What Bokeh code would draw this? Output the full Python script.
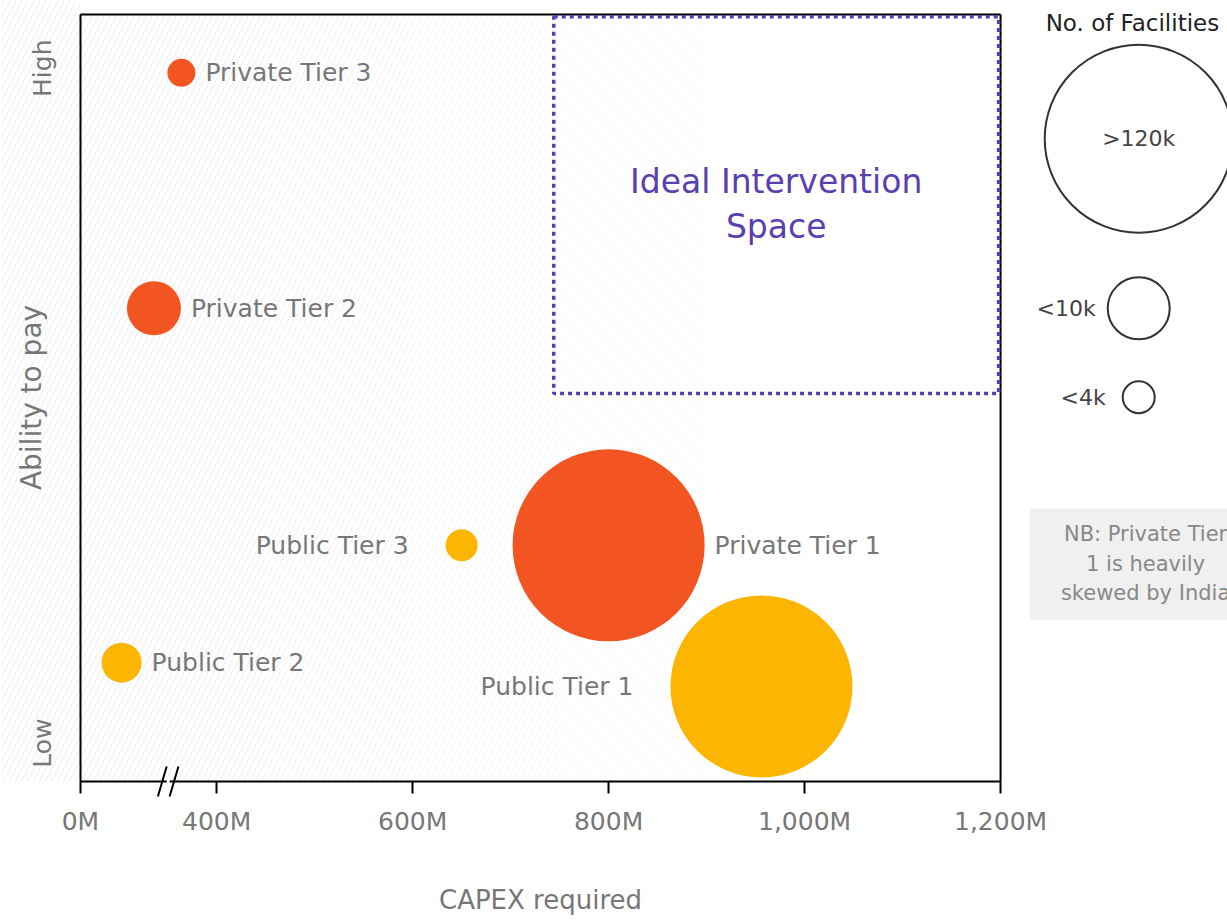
import math
from bokeh.plotting import figure
from bokeh.models import Range1d, FixedTicker, ColumnDataSource
from bokeh.core.properties import value
from bokeh.embed import file_html
from bokeh.resources import INLINE

# ---------------- data ----------------
names = ["Private Tier 3", "Private Tier 2", "Public Tier 2", "Public Tier 3", "Private Tier 1", "Public Tier 1"]
sector = ["Private", "Private", "Public", "Public", "Private", "Public"]
# CAPEX on the displayed (broken) axis scale, in M
capex = [364, 336, 303, 650, 800, 956]
# ability to pay, 0 (low) .. 100 (high)
ability = [92.4, 61.7, 15.5, 30.8, 30.8, 12.4]
# bubble diameters (number of facilities)
bubble_px = [28, 54, 40, 32, 192, 182]
label_side = ["right", "right", "right", "left", "right", "left"]

x_tick_values = [261, 400, 600, 800, 1000, 1200]
x_tick_labels = ["0M", "400M", "600M", "800M", "1,000M", "1,200M"]
y_tick_values = [93, 5]
y_tick_labels = ["High", "Low"]

axis_break = [340, 349, 352, 361]

ideal_x = [744, 1198]
ideal_y = [50.6, 99.7]

legend_labels = [">120k", "<10k", "<4k"]
legend_px = [188, 62, 32]
legend_y = [83.8, 61.7, 50.1]

nb_lines = ["NB: Private Tier", "1 is heavily", "skewed by India"]

# ---------------- styling ----------------
FONT = "DejaVu Sans"
GREY = "#777777"
COL = {"Private": "#F25522", "Public": "#FCB500"}
PURPLE = "#5B3FB0"

p = figure(width=1227, height=920, output_backend="svg", toolbar_location=None,
           x_range=Range1d(179.4, 1431.6), y_range=Range1d(-18.12, 101.83),
           min_border_left=0, min_border_right=0, min_border_top=0, min_border_bottom=0)
p.outline_line_color = None
p.grid.visible = False
p.background_fill_color = "white"
p.border_fill_color = "white"

x0, x1 = x_tick_values[0], x_tick_values[-1]

# faint hatch background fading to the right
bands = [(179.4, 450, 0.9), (450, 600, 0.7), (600, 750, 0.45), (750, 900, 0.2)]
p.quad(left=[b[0] for b in bands], right=[b[1] for b in bands], bottom=0, top=101.83,
       fill_alpha=0, line_alpha=0, hatch_pattern="/", hatch_color="#ebebeb",
       hatch_alpha=[b[2] for b in bands], hatch_scale=12, hatch_weight=1)
p.quad(left=[x0], right=[x1], bottom=[100], top=[101.83], fill_color="white", line_color=None)

# frame top / right borders
p.segment(x0=[x0, x1], y0=[100, 0], x1=[x1, x1], y1=[100, 100], line_color="black", line_width=2)

# ideal intervention box
p.quad(left=[ideal_x[0]], right=[ideal_x[1]], bottom=[ideal_y[0]], top=[ideal_y[1]],
       fill_alpha=0, line_color=PURPLE, line_width=3.5, line_dash="4 4")
cx = (ideal_x[0] + ideal_x[1]) / 2
cy = (ideal_y[0] + ideal_y[1]) / 2
p.text(x=[cx, cx], y=[cy, cy], text=["Ideal Intervention", "Space"], y_offset=[-24, 21],
       text_align="center", text_baseline="middle", text_color=PURPLE,
       text_font=value(FONT), text_font_size="33px")

# bubbles
src = ColumnDataSource(dict(x=capex, y=ability, size=bubble_px, name=names,
                            color=[COL[s] for s in sector]))
p.scatter("x", "y", size="size", source=src, fill_color="color", line_color=None)

# bubble labels
for side, gap, align in (("right", 10, "left"), ("left", -37, "right")):
    idx = [i for i, s in enumerate(label_side) if s == side]
    p.text(x=[capex[i] for i in idx], y=[ability[i] for i in idx], text=[names[i] for i in idx],
           x_offset=[(bubble_px[i] / 2 + gap) if side == "right" else -(bubble_px[i] / 2 - gap) for i in idx],
           text_align=align, text_baseline="middle", text_color=GREY,
           text_font=value(FONT), text_font_size="25px")

# size legend
lx = 1341
p.text(x=[1246], y=[98.9], text=["No. of Facilities"], text_align="left", text_baseline="middle",
       text_color="#222222", text_font=value(FONT), text_font_size="23px")
p.scatter(x=[lx] * 3, y=legend_y, size=legend_px, fill_alpha=0, line_color="#333333", line_width=2)
p.text(x=[lx], y=[legend_y[0]], text=[legend_labels[0]], text_align="center", text_baseline="middle",
       text_color="#444444", text_font=value(FONT), text_font_size="22px")
p.text(x=[lx, lx], y=legend_y[1:], text=legend_labels[1:],
       x_offset=[-(legend_px[1] / 2 + 12), -(legend_px[2] / 2 + 17)],
       text_align="right", text_baseline="middle",
       text_color="#444444", text_font=value(FONT), text_font_size="22px")

# NB note
p.quad(left=[1229.6], right=[1440], bottom=[21.1], top=[35.6], fill_color="#f0f0f0", line_color=None)
p.text(x=[1348] * 3, y=[32.3, 28.4, 24.6], text=nb_lines, text_align="center", text_baseline="middle",
       text_color="#888888", text_font=value(FONT), text_font_size="21px")

# axis titles
p.text(x=[(x0 + x1) / 2], y=[-15.4], text=["CAPEX required"], text_align="center", text_baseline="middle",
       text_color=GREY, text_font=value(FONT), text_font_size="26px")
p.text(x=[211], y=[50.07], text=["Ability to pay"], angle=math.pi / 2, text_align="center",
       text_baseline="middle", text_color=GREY, text_font=value(FONT), text_font_size="28px")

# axis break marker (drawn over the axis line)
gap_r = p.segment(x0=[axis_break[1]], y0=[0], x1=[axis_break[2]], y1=[0], line_color="white", line_width=4)
gap_r.level = "overlay"
brk_r = p.segment(x0=[axis_break[0], axis_break[2]], y0=[-1.96, -1.96],
                  x1=[axis_break[1], axis_break[3]], y1=[1.96, 1.96], line_color="black", line_width=2)
brk_r.level = "overlay"

# x axis (fixed at y = 0)
xa = p.xaxis[0]
xa.fixed_location = 0
xa.bounds = (x0, x1)
xa.ticker = FixedTicker(ticks=x_tick_values)
xa.major_label_overrides = dict(zip(x_tick_values, x_tick_labels))
xa.axis_line_color = "black"
xa.axis_line_width = 2
xa.major_tick_line_color = "black"
xa.major_tick_line_width = 2
xa.major_tick_out = 12
xa.major_tick_in = 0
xa.minor_tick_line_color = None
xa.major_label_text_font = FONT
xa.major_label_text_font_size = "25px"
xa.major_label_text_color = GREY
xa.major_label_standoff = 13

# y axis (fixed at the 0M position)
ya = p.yaxis[0]
ya.fixed_location = x0
ya.bounds = (0, 100)
ya.ticker = FixedTicker(ticks=y_tick_values)
ya.major_label_overrides = dict(zip(y_tick_values, y_tick_labels))
ya.major_label_orientation = "vertical"
ya.axis_line_color = "black"
ya.axis_line_width = 2
ya.major_tick_out = 0
ya.major_tick_in = 0
ya.major_tick_line_color = None
ya.minor_tick_line_color = None
ya.major_label_text_font = FONT
ya.major_label_text_font_size = "25px"
ya.major_label_text_color = GREY
ya.major_label_standoff = 23

open("out.html", "w").write(file_html(p, INLINE))
